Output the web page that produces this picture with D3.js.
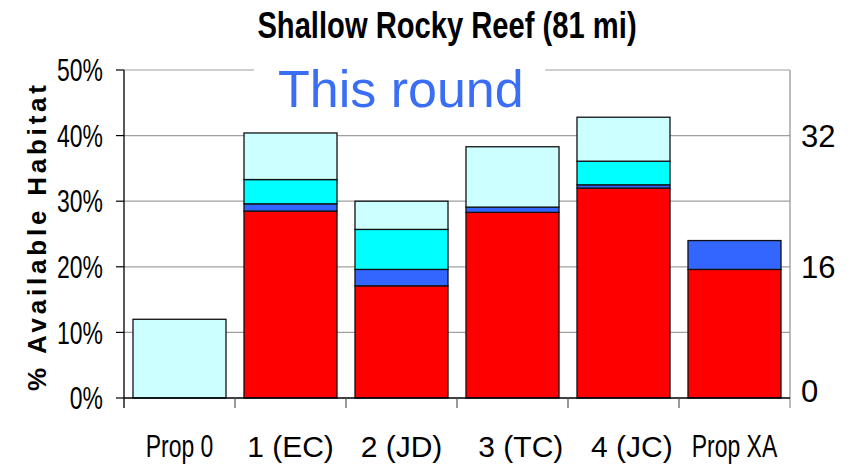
<!DOCTYPE html>
<html>
<head>
<meta charset="utf-8">
<script src="https://cdn.jsdelivr.net/npm/d3@7"></script>
<style>
  html, body { margin: 0; padding: 0; background: #fff; }
  svg { display: block; font-family: "Liberation Sans", Arial, sans-serif; }
</style>
</head>
<body>
<svg id="chart" width="855" height="465"></svg>
<script>
// Habitat share by alternative, stacked by protection level (percent of 81 mi)
const categories = ["Prop 0", "1 (EC)", "2 (JD)", "3 (TC)", "4 (JC)", "Prop XA"];
const tickLabels = ["Prop 0", "1 (EC)", "2 (JD)", "\u00a0\u00a03 (TC)", "\u00a0\u00a04 (JC)", "Prop XA"];
const redValues = [0, 28.5, 17.1, 28.3, 32.0, 19.6];
const blueValues = [0, 1.1, 2.5, 0.8, 0.5, 4.4];
const cyanValues = [0, 3.7, 6.1, 0, 3.6, 0];
const lightCyanValues = [12.0, 7.1, 4.3, 9.2, 6.7, 0];
const seriesKeys = ["red", "blue", "cyan", "lightCyan"];
const seriesColors = ["#ff0000", "#3366ff", "#00ffff", "#ccffff"];
const leftTicks = [0, 10, 20, 30, 40, 50];
const rightTicks = [0, 16, 32];

const svg = d3.select("#chart");

const plot = { left: 124, right: 790, top: 70, bottom: 398 };

const x = d3.scaleBand()
  .domain(categories)
  .range([plot.left, plot.right])
  .paddingInner(0.162)
  .paddingOuter(0.081);

const y = d3.scaleLinear().domain([0, 50]).range([plot.bottom, plot.top]);
// Right axis in miles: 50% of 81 mi is roughly 40 mi
const yMiles = d3.scaleLinear().domain([0, 40]).range([plot.bottom, plot.top]);

// squeeze a text element horizontally to mimic a narrow face
function squeeze(sel, factor) {
  sel.each(function () {
    const len = this.getComputedTextLength();
    d3.select(this)
      .attr("textLength", len * factor)
      .attr("lengthAdjust", "spacingAndGlyphs");
  });
}

// gridlines
svg.append("g")
  .selectAll("line")
  .data(leftTicks.filter(d => d > 0))
  .join("line")
  .attr("x1", plot.left).attr("x2", plot.right)
  .attr("y1", d => y(d)).attr("y2", d => y(d))
  .attr("stroke", "#a0a0a0").attr("stroke-width", 1.2);

// stacked bars
const rows = categories.map((c, i) => ({
  category: c,
  red: redValues[i],
  blue: blueValues[i],
  cyan: cyanValues[i],
  lightCyan: lightCyanValues[i]
}));
const stacked = d3.stack().keys(seriesKeys)(rows);

svg.append("g")
  .selectAll("g")
  .data(stacked)
  .join("g")
  .attr("fill", (d, i) => seriesColors[i])
  .selectAll("rect")
  .data(d => d.filter(s => s[1] - s[0] > 0))
  .join("rect")
  .attr("x", d => x(d.data.category))
  .attr("width", x.bandwidth())
  .attr("y", d => y(d[1]))
  .attr("height", d => y(d[0]) - y(d[1]))
  .attr("stroke", "#111")
  .attr("stroke-width", 1.3);

// left axis
const leftAxis = svg.append("g").attr("transform", `translate(${plot.left},0)`);
leftAxis.append("line")
  .attr("x1", 0).attr("x2", 0)
  .attr("y1", plot.top).attr("y2", plot.bottom + 10)
  .attr("stroke", "#000").attr("stroke-width", 1.3);
leftAxis.selectAll("line.tick")
  .data(leftTicks)
  .join("line")
  .attr("class", "tick")
  .attr("x1", -8).attr("x2", 0)
  .attr("y1", d => y(d)).attr("y2", d => y(d))
  .attr("stroke", "#000").attr("stroke-width", 1.2);
const leftLabels = leftAxis.selectAll("text")
  .data(leftTicks)
  .join("text")
  .attr("x", -21)
  .attr("y", d => y(d))
  .attr("dy", "0.36em")
  .attr("text-anchor", "end")
  .attr("font-size", 31)
  .attr("fill", "#000")
  .text(d => d + "%");
squeeze(leftLabels, 0.74);

// right axis (miles)
const rightAxis = svg.append("g").attr("transform", `translate(${plot.right},0)`);
rightAxis.append("line")
  .attr("x1", 0).attr("x2", 0)
  .attr("y1", plot.top).attr("y2", plot.bottom + 10)
  .attr("stroke", "#999").attr("stroke-width", 1.3);
rightAxis.selectAll("text")
  .data(rightTicks)
  .join("text")
  .attr("x", 11)
  .attr("y", d => yMiles(d))
  .attr("dy", d => d === 0 ? "0.14em" : "0.36em")
  .attr("text-anchor", "start")
  .attr("font-size", 31)
  .attr("fill", "#000")
  .text(d => d);

// bottom axis with ticks between categories
const step = x.step();
const boundaries = d3.range(categories.length + 1).map(i => plot.left + i * step);
svg.append("line")
  .attr("x1", plot.left).attr("x2", plot.right)
  .attr("y1", plot.bottom).attr("y2", plot.bottom)
  .attr("stroke", "#000").attr("stroke-width", 1.3);
svg.append("g")
  .selectAll("line")
  .data(boundaries.slice(1, -1))
  .join("line")
  .attr("x1", d => d).attr("x2", d => d)
  .attr("y1", plot.bottom).attr("y2", plot.bottom + 10)
  .attr("stroke", "#555").attr("stroke-width", 1.2);

const catLabels = svg.append("g")
  .selectAll("text")
  .data(categories)
  .join("text")
  .attr("x", d => x(d) + x.bandwidth() / 2)
  .attr("y", 457)
  .attr("text-anchor", "middle")
  .attr("font-size", d => d.startsWith("Prop") ? 31 : 30)
  .attr("fill", "#000")
  .style("white-space", "pre")
  .text((d, i) => tickLabels[i]);
squeeze(catLabels.filter(d => d.startsWith("Prop")), 0.74);

// y-axis title
svg.append("text")
  .attr("transform", "translate(46,238) rotate(-90)")
  .attr("text-anchor", "middle")
  .attr("font-size", 26)
  .attr("font-weight", "bold")
  .attr("fill", "#000")
  .attr("textLength", 306)
  .attr("lengthAdjust", "spacing")
  .text("% Available Habitat");

// chart title
const title = svg.append("text")
  .attr("x", 447)
  .attr("y", 38)
  .attr("text-anchor", "middle")
  .attr("font-size", 36)
  .attr("font-weight", "bold")
  .attr("fill", "#000")
  .text("Shallow Rocky Reef (81 mi)");
squeeze(title, 0.81);

// round label on a white panel
svg.append("rect")
  .attr("x", 254).attr("y", 52)
  .attr("width", 291).attr("height", 68)
  .attr("fill", "#fff");
svg.append("text")
  .attr("x", 278)
  .attr("y", 107)
  .attr("font-size", 52)
  .attr("fill", "#3a6ef5")
  .text("This round");
</script>
</body>
</html>
